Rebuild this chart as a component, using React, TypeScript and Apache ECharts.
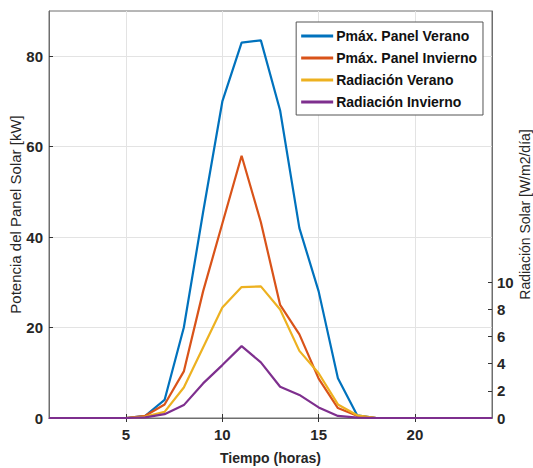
import React, { useEffect, useRef } from "react";
import * as echarts from "echarts";

const hours = [1, 2, 3, 4, 5, 6, 7, 8, 9, 10, 11, 12, 13, 14, 15, 16, 17, 18, 19, 20, 21, 22, 23, 24];
const pmaxVerano = [0, 0, 0, 0, 0, 0.5, 4, 20, 45.5, 70, 83, 83.5, 68, 42, 28, 8.8, 0.6, 0, 0, 0, 0, 0, 0, 0];
const pmaxInvierno = [0, 0, 0, 0, 0, 0.5, 3, 10.3, 28, 43, 58, 43.3, 25, 18.5, 8.7, 2.2, 0.5, 0, 0, 0, 0, 0, 0, 0];
const radVerano = [0, 0, 0, 0, 0, 0.1, 0.45, 2.25, 5.2, 8.15, 9.65, 9.7, 8.0, 4.95, 3.3, 1.0, 0.2, 0, 0, 0, 0, 0, 0, 0];
const radInvierno = [0, 0, 0, 0, 0, 0.05, 0.28, 0.95, 2.55, 3.9, 5.3, 4.1, 2.3, 1.7, 0.78, 0.15, 0.03, 0, 0, 0, 0, 0, 0, 0];

const xTicks = [5, 10, 15, 20];
const leftTicks = [0, 20, 40, 60, 80];
const rightTicks = [0, 2, 4, 6, 8, 10];

const seriesNames = ["Pmáx. Panel Verano", "Pmáx. Panel Invierno", "Radiación Verano", "Radiación Invierno"];
const colors = ["#0072BD", "#D95319", "#EDB120", "#7E2F8E"];

const FONT = "'Liberation Sans', Arial, sans-serif";

const pairs = (ys: number[]) => hours.map((h, i) => [h, ys[i]]);

export default function App() {
  const ref = useRef<HTMLDivElement>(null);
  useEffect(() => {
    if (!ref.current) return;
    const chart = echarts.init(ref.current, null, { renderer: "svg" });
    const axisLineColor = "#6e6e6e";
    const labelStyle = { color: "#262626", fontFamily: FONT, fontWeight: "bold" as const, fontSize: 15 };
    const titleStyle = { color: "#262626", fontFamily: FONT, fontWeight: "normal" as const, fontSize: 15 };
    chart.setOption({
      animation: false,
      backgroundColor: "#ffffff",
      grid: {
        left: 49,
        right: 41,
        top: 11,
        bottom: 50,
        show: true,
        borderColor: axisLineColor,
        borderWidth: 1,
        containLabel: false,
        outerBoundsMode: "none",
      },
      legend: {
        show: true,
        right: 50,
        top: 22,
        orient: "vertical",
        data: seriesNames,
        icon: "rect",
        itemWidth: 32,
        itemHeight: 3,
        itemGap: 8,
        padding: [7, 6, 6, 5],
        backgroundColor: "#ffffff",
        borderColor: "#555555",
        borderWidth: 1,
        textStyle: { color: "#111", fontFamily: FONT, fontWeight: "bold", fontSize: 14, padding: [0, 0, 0, -2] },
      },
      xAxis: [
        {
          type: "value",
          min: 1,
          max: 24,
          position: "bottom",
          name: "Tiempo (horas)",
          nameLocation: "middle",
          nameGap: 33,
          nameMoveOverlap: false,
          nameTextStyle: { ...labelStyle, fontSize: 14 },
          axisLine: { show: true, lineStyle: { color: axisLineColor } },
          axisTick: { show: true, inside: true, length: 4, customValues: xTicks, lineStyle: { color: "#333" } },
          axisLabel: { ...labelStyle, customValues: xTicks, margin: 9 },
          splitLine: { show: true, lineStyle: { color: "#e3e3e3", width: 1 } },
        },
        {
          type: "value",
          min: 1,
          max: 24,
          position: "top",
          axisLine: { show: true, lineStyle: { color: axisLineColor } },
          axisTick: { show: true, inside: true, length: 4, customValues: xTicks, lineStyle: { color: "#333" } },
          axisLabel: { show: false },
          splitLine: { show: false },
        },
      ],
      yAxis: [
        {
          type: "value",
          min: 0,
          max: 90,
          position: "left",
          name: "Potencia del Panel Solar [kW]",
          nameLocation: "middle",
          nameRotate: 90,
          nameGap: 26,
          nameMoveOverlap: false,
          nameTextStyle: titleStyle,
          axisLine: { show: true, lineStyle: { color: axisLineColor } },
          axisTick: { show: true, inside: true, length: 4, customValues: leftTicks, lineStyle: { color: "#333" } },
          axisLabel: { ...labelStyle, customValues: leftTicks, margin: 6 },
          splitLine: { show: true, lineStyle: { color: "#e3e3e3", width: 1 } },
        },
        {
          type: "value",
          min: 0,
          max: 30,
          position: "right",
          name: "Radiación Solar [W/m2/día]",
          nameLocation: "middle",
          nameRotate: 90,
          nameGap: 26,
          nameMoveOverlap: false,
          nameTextStyle: { ...titleStyle, fontSize: 14 },
          axisLine: { show: true, lineStyle: { color: axisLineColor } },
          axisTick: { show: true, inside: true, length: 4, customValues: rightTicks, lineStyle: { color: "#333" } },
          axisLabel: { ...labelStyle, customValues: rightTicks, margin: 5 },
          splitLine: { show: false },
        },
      ],
      series: [
        { name: seriesNames[0], type: "line", xAxisIndex: 0, yAxisIndex: 0, data: pairs(pmaxVerano), showSymbol: false, symbol: "none", lineStyle: { width: 2.2, color: colors[0] }, itemStyle: { color: colors[0] } },
        { name: seriesNames[1], type: "line", xAxisIndex: 0, yAxisIndex: 0, data: pairs(pmaxInvierno), showSymbol: false, symbol: "none", lineStyle: { width: 2.2, color: colors[1] }, itemStyle: { color: colors[1] } },
        { name: seriesNames[2], type: "line", xAxisIndex: 0, yAxisIndex: 1, data: pairs(radVerano), showSymbol: false, symbol: "none", lineStyle: { width: 2.2, color: colors[2] }, itemStyle: { color: colors[2] } },
        { name: seriesNames[3], type: "line", xAxisIndex: 0, yAxisIndex: 1, data: pairs(radInvierno), showSymbol: false, symbol: "none", lineStyle: { width: 2.2, color: colors[3] }, itemStyle: { color: colors[3] } },
      ],
    });
    return () => chart.dispose();
  }, []);
  return <div ref={ref} style={{ width: 533, height: 468, position: "absolute", left: 0, top: 0 }} />;
}
